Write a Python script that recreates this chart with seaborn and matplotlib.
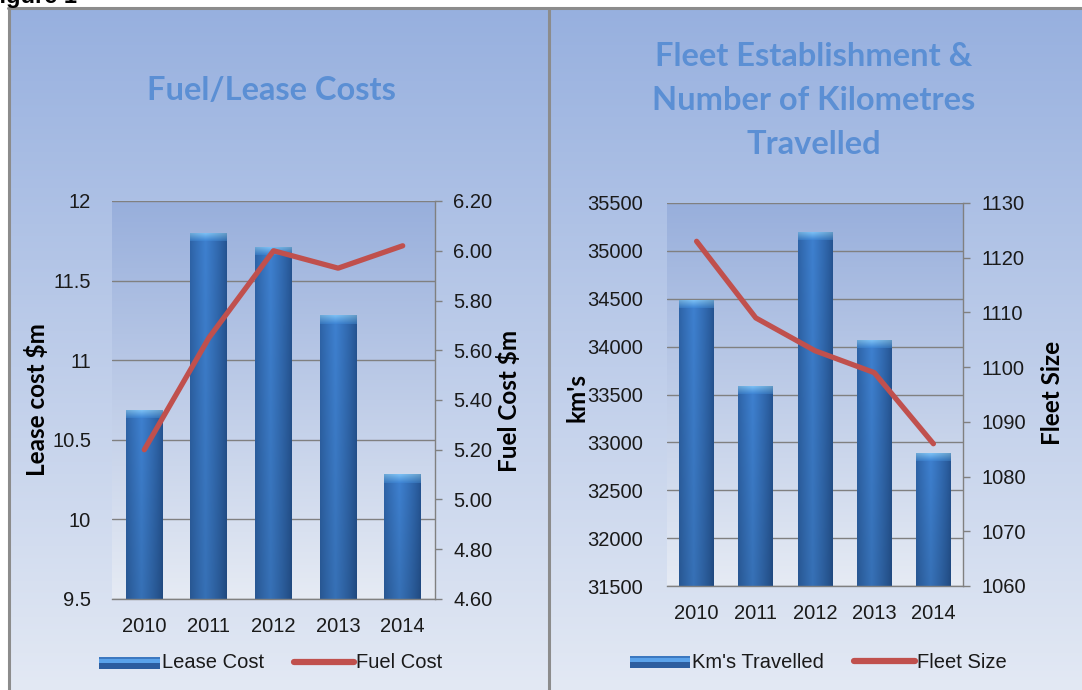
import numpy as np
import pandas as pd
import matplotlib
matplotlib.use("Agg")
import matplotlib.pyplot as plt
import seaborn as sns
from matplotlib.patches import Rectangle
from matplotlib.lines import Line2D
from matplotlib.legend_handler import HandlerBase
from matplotlib.colors import to_rgb

# ---- data -------------------------------------------------------------
years = ["2010", "2011", "2012", "2013", "2014"]

lease_cost = [10.69, 11.80, 11.71, 11.28, 10.28]      # $m
fuel_cost = [5.20, 5.65, 6.00, 5.93, 6.02]            # $m

kms_travelled = [34490, 33590, 35200, 34070, 32890]
fleet_size = [1123, 1109, 1103, 1099, 1086]

lease_ticks = [9.5, 10, 10.5, 11, 11.5, 12]
lease_ticklabels = ["9.5", "10", "10.5", "11", "11.5", "12"]
fuel_ticks = [4.6, 4.8, 5.0, 5.2, 5.4, 5.6, 5.8, 6.0, 6.2]
fuel_ticklabels = ["4.60", "4.80", "5.00", "5.20", "5.40", "5.60", "5.80", "6.00", "6.20"]
kms_ticks = [31500, 32000, 32500, 33000, 33500, 34000, 34500, 35000, 35500]
kms_ticklabels = [str(v) for v in kms_ticks]
fleet_ticks = [1060, 1070, 1080, 1090, 1100, 1110, 1120, 1130]
fleet_ticklabels = [str(v) for v in fleet_ticks]

# ---- style ------------------------------------------------------------
sns.set_theme(style="white")
plt.rcParams["font.family"] = ["Liberation Sans", "DejaVu Sans"]

TITLE_COLOR = "#5b8fd4"
LINE_COLOR = "#c0504d"
GRID_COLOR = "#808080"
TEXT_COLOR = "#1a1a1a"
HEAD_FONT = ["Lato", "DejaVu Sans"]
TITLE_SIZE = 23.5
LABEL_SIZE = 17.5

W, H = 1082, 690
fig = plt.figure(figsize=(W / 100, H / 100), dpi=100)
fig.patch.set_facecolor("white")


def px_axes(x0, y0, x1, y1, **kw):
    """Axes placed by pixel box (top-left origin)."""
    return fig.add_axes([x0 / W, 1 - y1 / H, (x1 - x0) / W, (y1 - y0) / H], **kw)


def vertical_gradient(ax, top, bottom, n=256):
    c0, c1 = np.array(to_rgb(top)), np.array(to_rgb(bottom))
    t = np.linspace(0, 1, n)[:, None]
    img = (c0 * (1 - t) + c1 * t)[:, None, :]
    ax.imshow(img, extent=[0, 1, 0, 1], aspect="auto", origin="upper",
              transform=ax.transAxes, zorder=0, interpolation="bicubic")


# ---- panel backgrounds -------------------------------------------------
for (x0, x1) in [(9, 547), (550, 1082)]:
    bg = px_axes(x0, 8, x1, H, zorder=-10)
    vertical_gradient(bg, "#97b0df", "#e3e9f4")
    bg.set_axis_off()

# panel frame lines
fig.add_artist(Line2D([9 / W, 9 / W], [0, 1 - 8 / H], color="#8c8c8c", lw=2.2))
fig.add_artist(Line2D([549 / W, 549 / W], [0, 1 - 8 / H], color="#8c8c8c", lw=2.2))
fig.add_artist(Line2D([8 / W, 1], [1 - 8 / H, 1 - 8 / H], color="#8c8c8c", lw=2.2))

fig.text(-15 / W, 1 - 3 / H, "Figure 1", fontsize=17, fontweight="bold",
         color="black", ha="left", va="baseline")


# ---- bar shading -------------------------------------------------------
def shade_bars(ax, cap_px=8):
    fig.canvas.draw()
    y0, y1 = ax.get_ylim()
    h_px = ax.get_window_extent().height
    cap = (y1 - y0) * cap_px / h_px
    xs = np.linspace(0, 1, 64)
    edge = np.array(to_rgb("#24528f"))
    mid = np.array(to_rgb("#3e80cf"))
    prof = np.clip(1 - np.abs(xs - 0.42) / 0.58, 0, 1) ** 0.8
    row = edge * (1 - prof[:, None]) + mid * prof[:, None]
    for p in list(ax.patches):
        x, w = p.get_x(), p.get_width()
        top = p.get_y() + p.get_height()
        base = max(p.get_y(), y0)
        # body: horizontal shading, a little darker toward the base
        tv = np.linspace(0, 1, 64)[:, None, None]
        body = row[None, :, :] * (1 - 0.12 * tv)
        ax.imshow(body, extent=[x, x + w, base, top - cap], aspect="auto",
                  origin="upper", zorder=2, interpolation="bilinear")
        # bevelled top cap
        capc = np.array(to_rgb("#7cc0f5"))
        capd = np.array(to_rgb("#3f86d6"))
        tv2 = np.linspace(0, 1, 16)[:, None, None]
        capimg = (capc * (1 - tv2) + capd * tv2) * np.ones((1, 64, 3))
        capimg = capimg * (0.8 + 0.2 * prof[None, :, None])
        ax.imshow(np.clip(capimg, 0, 1), extent=[x, x + w, top - cap, top],
                  aspect="auto", origin="upper", zorder=2, interpolation="bilinear")
        p.set_zorder(1.9)
    ax.set_xlim(-0.5, len(years) - 0.5)
    ax.set_ylim(y0, y1)


def style_axes(ax, ax2, ticks_l, labels_l, ticks_r, labels_r):
    ax.set_facecolor("none")
    ax.set_yticks(ticks_l)
    ax.set_yticklabels(labels_l)
    ax.set_ylim(ticks_l[0], ticks_l[-1])
    ax2.set_yticks(ticks_r)
    ax2.set_yticklabels(labels_r)
    ax2.set_ylim(ticks_r[0], ticks_r[-1])
    ax.set_xlim(-0.5, len(years) - 0.5)
    ax.yaxis.grid(True, color=GRID_COLOR, lw=1.0)
    ax.xaxis.grid(False)
    ax.set_axisbelow(True)
    for s in ["top", "left", "right"]:
        ax.spines[s].set_visible(False)
    ax.spines["bottom"].set_color(GRID_COLOR)
    ax.spines["bottom"].set_linewidth(1.0)
    ax.spines["bottom"].set_zorder(3)
    for s in ["top", "left", "bottom"]:
        ax2.spines[s].set_visible(False)
    ax2.spines["right"].set_color(GRID_COLOR)
    ax2.spines["right"].set_linewidth(1.0)
    ax.tick_params(axis="y", length=0, pad=15, labelsize=14.5, labelcolor=TEXT_COLOR)
    ax.tick_params(axis="x", length=0, pad=13, labelsize=14.5, labelcolor=TEXT_COLOR)
    ax2.tick_params(axis="y", length=5, width=1, color=GRID_COLOR, pad=8,
                    labelsize=14.5, labelcolor=TEXT_COLOR, direction="out", right=True)
    ax.set_xlabel("")


class BarSwatch(HandlerBase):
    def create_artists(self, legend, orig, xd, yd, width, height, fontsize, trans):
        h = height * 0.95
        y = yd + (height - h) / 2
        arts = [Rectangle((xd, y), width, h, facecolor="#2c5d9f", edgecolor="none", transform=trans),
                Rectangle((xd, y + h * 0.45), width, h * 0.35, facecolor="#5aa2ea", edgecolor="none", transform=trans),
                Rectangle((xd, y + h * 0.8), width, h * 0.2, facecolor="#3c78c0", edgecolor="none", transform=trans)]
        return arts


def add_legend(bar_label, line_label, cx, cy):
    handles = [Rectangle((0, 0), 1, 1), Line2D([0], [0], color=LINE_COLOR, lw=4.5,
                                              solid_capstyle="round")]
    fig.legend(handles, [bar_label, line_label], loc="center",
               bbox_to_anchor=(cx / W, 1 - cy / H), ncol=2, frameon=False,
               fontsize=14.5, handlelength=3.0, handleheight=0.6, handletextpad=0.1,
               columnspacing=1.5, labelcolor=TEXT_COLOR,
               handler_map={Rectangle: BarSwatch()})


def axis_label(x, y, text):
    fig.text(x / W, 1 - y / H, text, family=HEAD_FONT, fontweight="bold",
             fontsize=LABEL_SIZE, color="black", rotation=90, ha="center", va="center")


# ---- left chart: lease & fuel costs -----------------------------------
cost_df = pd.DataFrame({"year": years, "lease": lease_cost, "fuel": fuel_cost})

pa = px_axes(112, 201, 435, 599, zorder=0)
vertical_gradient(pa, "#98afdc", "#e6ebf4")
pa.set_axis_off()

axL = px_axes(112, 201, 435, 599, zorder=1)
sns.barplot(data=cost_df, x="year", y="lease", ax=axL, color="#3a78c6",
            width=0.57, saturation=1, edgecolor="none")
axL2 = axL.twinx()
sns.lineplot(x=np.arange(len(years)), y=cost_df["fuel"], ax=axL2, color=LINE_COLOR,
             lw=3.8, solid_capstyle="round")
style_axes(axL, axL2, lease_ticks, lease_ticklabels, fuel_ticks, fuel_ticklabels)
axL.set_ylabel("")
axL2.set_ylabel("")
shade_bars(axL)

fig.text(271 / W, 1 - 90 / H, "Fuel/Lease Costs", family=HEAD_FONT, fontweight="bold",
         fontsize=TITLE_SIZE, color=TITLE_COLOR, ha="center", va="center")
axis_label(37, 400, "Lease cost $m")
axis_label(509, 401, "Fuel Cost $m")
add_legend("Lease Cost", "Fuel Cost", 271, 663)

# ---- right chart: fleet size & kilometres -----------------------------
fleet_df = pd.DataFrame({"year": years, "kms": kms_travelled, "fleet": fleet_size})

pb = px_axes(667, 203, 963, 586, zorder=0)
vertical_gradient(pb, "#98afdc", "#e6ebf4")
pb.set_axis_off()

axR = px_axes(667, 203, 963, 586, zorder=1)
sns.barplot(data=fleet_df, x="year", y="kms", ax=axR, color="#3a78c6",
            width=0.59, saturation=1, edgecolor="none")
axR2 = axR.twinx()
sns.lineplot(x=np.arange(len(years)), y=fleet_df["fleet"], ax=axR2, color=LINE_COLOR,
             lw=3.8, solid_capstyle="round")
style_axes(axR, axR2, kms_ticks, kms_ticklabels, fleet_ticks, fleet_ticklabels)
axR.tick_params(axis="y", pad=17)
axR.set_ylabel("")
axR2.set_ylabel("")
shade_bars(axR)

for i, line in enumerate(["Fleet Establishment &", "Number of Kilometres", "Travelled"]):
    fig.text(814 / W, 1 - (57 + 44 * i) / H, line, family=HEAD_FONT, fontweight="bold",
             fontsize=TITLE_SIZE, color=TITLE_COLOR, ha="center", va="center")
axis_label(577, 397, "km's")
axis_label(1052, 393, "Fleet Size")
add_legend("Km's Travelled", "Fleet Size", 818, 662)

fig.savefig("out.png", dpi=100, facecolor=fig.get_facecolor())
